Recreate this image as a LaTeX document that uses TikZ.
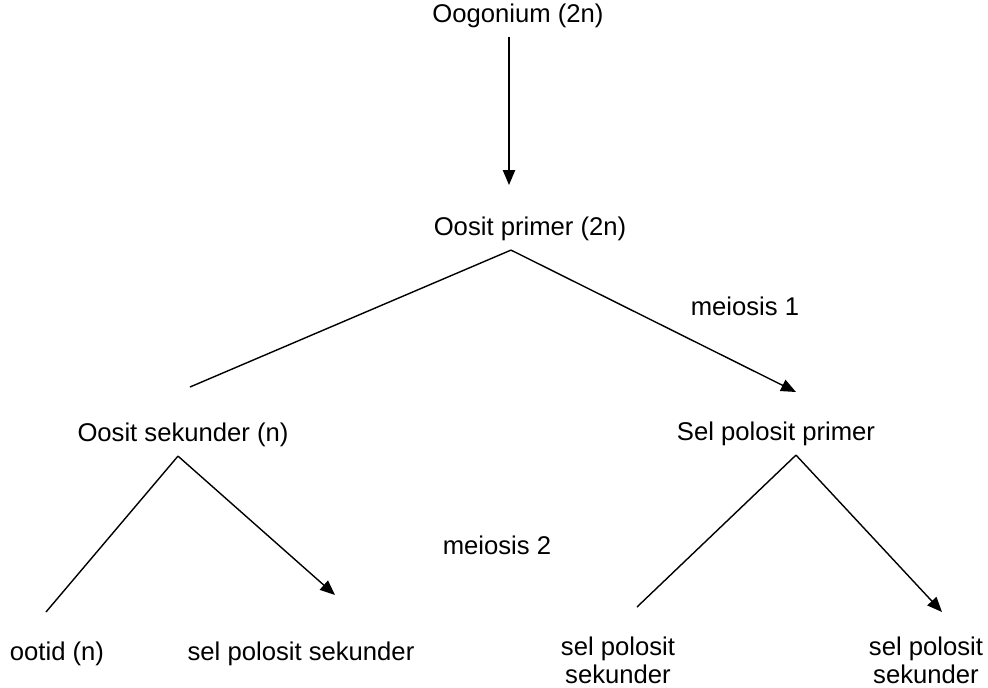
\documentclass[tikz,border=0pt]{standalone}
\usepackage{fontspec}
\setmainfont{Liberation Sans}
\usetikzlibrary{arrows.meta,calc}

\begin{document}
\begin{tikzpicture}[
    x = 0.02cm, y = -0.02cm,
    line join=round,
    label/.style = {inner sep=5pt, font=\fontsize{14.6}{16}\selectfont, align=center},
    link/.style = {line width=0.8pt},
    arr/.style = {link, -{Triangle[length=8.5pt, width=7pt]}}
]

\useasboundingbox (0, 0) rectangle (988, 687);

\node[label] (oogonium) at (518, 16) {Oogonium (2n)};
\node[label] (primer) at (530, 229) {Oosit primer (2n)};
\node[label] (sekunder) at (183, 435) {Oosit sekunder (n)};
\node[label] (polosit) at (776, 434) {Sel polosit primer};
\node[label] (ootid) at (57, 654) {ootid (n)};
\node[label] (sps1) at (301, 654) {sel polosit sekunder};
\node[label] (sps2) at (618, 660) {sel polosit\\sekunder};
\node[label] (sps3) at (926, 660) {sel polosit\\sekunder};

\node[label] (m1) at (745, 306) {meiosis 1};
\node[label] (m2) at (497, 545) {meiosis 2};

\coordinate (1) at (509, 185);
\coordinate (2) at (190, 387);
\coordinate (3) at (796, 392);
\coordinate (4) at (46, 612);
\coordinate (5) at (335, 595);
\coordinate (6) at (637, 607);
\coordinate (7) at (942, 612);

\draw[arr] ($(oogonium.south)+(-9, 0)$) -- (1);
\draw[link] ($(primer.south)+(-19, 0)$) -- (2);
\draw[arr] ($(primer.south)+(-19, 0)$) -- (3);
\draw[link] ($(sekunder.south)+(-5, 0)$) -- (4);
\draw[arr] ($(sekunder.south)+(-5, 0)$) -- (5);
\draw[link] ($(polosit.south)+(20, 0)$) -- (6);
\draw[arr] ($(polosit.south)+(20, 0)$) -- (7);

\end{tikzpicture}
\end{document}
